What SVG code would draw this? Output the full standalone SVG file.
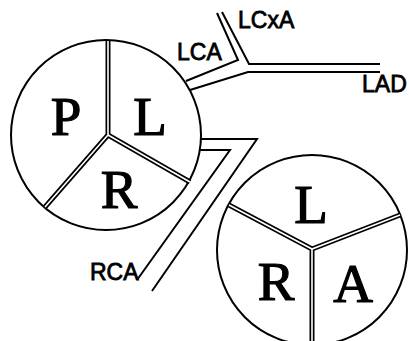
<svg xmlns="http://www.w3.org/2000/svg" width="409" height="341" viewBox="0 0 409 341">
<style>
.circ{fill:#fff;stroke:#000;stroke-width:2}
.spk{fill:none;stroke:#000;stroke-width:5;stroke-linejoin:miter}
.spkw{fill:none;stroke:#fff;stroke-width:1.6}
.ves{fill:none;stroke:#000;stroke-width:2;stroke-linejoin:miter}
.big{font-family:"Liberation Serif","Times New Roman",serif;font-size:55px;text-anchor:middle;fill:#000;stroke:#000;stroke-width:1.2}
.lab{font-family:"Liberation Sans",Arial,sans-serif;font-size:23px;fill:#000;stroke:#000;stroke-width:0.8}
</style>
<rect width="409" height="341" fill="#fff"/>
<g id="connectors">
<path class="ves" d="M186,81 L238,60 L217,13"/>
<path class="ves" d="M222,12 L249,64 L380,64"/>
<path class="ves" d="M190,90 L248,72 L380,72"/>
<path class="ves" d="M201,139 L257,139 L152,291"/>
<path class="ves" d="M200,150 L230,150 L137,280"/>
</g>
<g id="node-left">
<circle class="circ" cx="106" cy="135" r="95"/>
<path class="spk" d="M108,41 L108,135 L190,182 M108,135 L45,207"/>
<path class="spkw" d="M108,41 L108,135 L190,182 M108,135 L45,207"/>
<text class="big" x="66" y="135">P</text>
<text class="big" x="150" y="135">L</text>
<text class="big" x="119" y="208">R</text>
</g>
<g id="node-right">
<circle class="circ" cx="312" cy="250" r="95"/>
<path class="spk" d="M229,205 L312,249 L400,215 M312,249 L312,345"/>
<path class="spkw" d="M229,205 L312,249 L400,215 M312,249 L312,345"/>
<text class="big" x="311" y="223">L</text>
<text class="big" x="276" y="300">R</text>
<text class="big" x="353" y="302">A</text>
</g>
<g id="labels">
<text class="lab" x="238" y="28">LCxA</text>
<text class="lab" x="177" y="60">LCA</text>
<text class="lab" x="362" y="92">LAD</text>
<text class="lab" x="90" y="280">RCA</text>
</g>
</svg>
